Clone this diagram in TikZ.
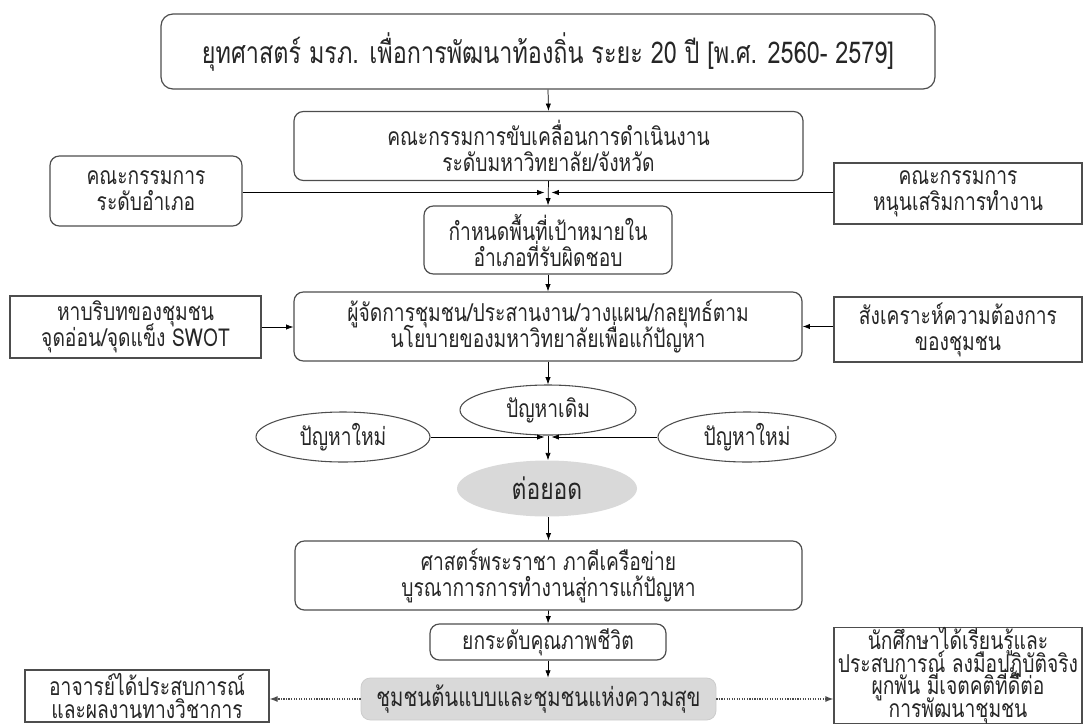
\documentclass[tikz,border=0pt]{standalone}
\usepackage{fontspec}
\newfontfamily\thai[Script=Thai,FakeStretch=0.78]{Loma}
\usetikzlibrary{arrows.meta,shapes.geometric}
\definecolor{linec}{HTML}{4D4D4D}
\definecolor{txt}{HTML}{262626}
\definecolor{fillg}{HTML}{D9D9D9}
\newcommand\tightlines{\lineskiplimit=-30pt\relax\lineskip=0pt\relax}
\begin{document}
\begin{tikzpicture}[x=0.75pt,y=-0.75pt,
  sz/.style 2 args={minimum width=#1*0.75pt,minimum height=#2*0.75pt,inner sep=0pt},
  basetext/.style={text=txt,align=center,font=\thai\fontsize{18.5}{19.5}\selectfont\tightlines},
  rbox/.style={basetext,draw=linec,line width=0.9pt,rounded corners=7pt,rectangle},
  sbox/.style={basetext,draw=linec,line width=0.9pt,rectangle},
  oval/.style={basetext,draw=linec,line width=0.8pt,ellipse},
  arr/.style={draw=black,line width=0.55pt,-{Latex[length=5.5pt,width=4pt]}},
  darr/.style={draw=black!70,line width=0.9pt,densely dotted,-{Latex[length=6pt,width=4.5pt]}}
]
\useasboundingbox (0,0) rectangle (1085,725);

\node[rbox,sz={774}{75},rounded corners=9pt,font=\thai\fontsize{22.5}{24}\selectfont] (title) at (548,51.5)
  {ยุทศาสตร์ มรภ. เพื่อการพัฒนาท้องถิ่น ระยะ 20 ปี [พ.ศ. 2560- 2579]};

\node[rbox,sz={509}{69}] (b2) at (548.5,146)
  {คณะกรรมการขับเคลื่อนการดำเนินงาน\\ระดับมหาวิทยาลัย/จังหวัด};
\node[rbox,sz={192}{70}] (lb) at (146,191) {คณะกรรมการ\\ระดับอำเภอ};
\node[sbox,sz={248}{61}] (rb) at (958,193.5) {คณะกรรมการ\\หนุนเสริมการทำงาน};
\node[rbox,sz={248}{68}] (b3) at (548,240) {กำหนดพื้นที่เป้าหมายใน\\อำเภอที่รับผิดชอบ};

\node[rbox,sz={508}{69}] (b4) at (548,326.5)
  {ผู้จัดการชุมชน/ประสานงาน/วางแผน/กลยุทธ์ตาม\\นโยบายของมหาวิทยาลัยเพื่อแก้ปัญหา};
\node[sbox,sz={251}{62}] (swot) at (135.5,327) {หาบริบทของชุมชน\\จุดอ่อน/จุดแข็ง SWOT};
\node[sbox,sz={248}{65}] (syn) at (958,329.5) {สังเคราะห์ความต้องการ\\ของชุมชน};

\node[oval,sz={176}{50}] (old) at (548,410) {ปัญหาเดิม};
\node[oval,sz={174}{50}] (newL) at (343,437) {ปัญหาใหม่};
\node[oval,sz={178}{50}] (newR) at (747,437) {ปัญหาใหม่};
\node[basetext,ellipse,fill=fillg,sz={180}{56},font=\thai\fontsize{22}{24}\selectfont] (toyod) at (547,488.5) {ต่อยอด};

\node[rbox,sz={507}{69}] (b5) at (548.5,575.5)
  {ศาสตร์พระราชา ภาคีเครือข่าย\\บูรณาการการทำงานสู่การแก้ปัญหา};
\node[rbox,sz={236}{36}] (b6) at (548,642) {ยกระดับคุณภาพชีวิต};
\node[basetext,rectangle,rounded corners=7pt,fill=fillg,draw=black!20,line width=0.6pt,sz={355}{42},font=\thai\fontsize{19.5}{20}\selectfont] (gray) at (538.5,699)
  {ชุมชนต้นแบบและชุมชนแห่งความสุข};
\node[sbox,sz={244}{52},font=\thai\fontsize{18.5}{17.5}\selectfont\tightlines] (lbot) at (147,696) {อาจารย์ได้ประสบการณ์\\และผลงานทางวิชาการ};
\node[sbox,sz={248}{94},font=\thai\fontsize{18.5}{17}\selectfont\tightlines] (rbot) at (958,675.5)
  {นักศึกษาได้เรียนรู้และ\\ประสบการณ์ ลงมือปฏิบัติจริง\\ผูกพัน มีเจตคติที่ดีต่อ\\การพัฒนาชุมชน};

\coordinate (jL) at (544.5,192.5);
\coordinate (jR) at (551.5,192.5);
\coordinate (kL) at (544.5,437);
\coordinate (kR) at (551.5,437);

\draw[arr] (title.south) -- (b2.north);
\draw[arr] (b2.south) -- (b3.north);
\draw[arr] (lb.east |- jL) -- (jL);
\draw[arr] (rb.west |- jR) -- (jR);
\draw[arr] (b3.south) -- (b4.north);
\draw[arr] (swot.east) -- (swot.east -| b4.west);
\draw[arr] (syn.west |- b4.east) -- (b4.east);
\draw[arr] (b4.south) -- (old.north);
\draw[arr] (newL.east) -- (kL);
\draw[arr] (newR.west) -- (kR);
\draw[arr] (old.south) -- (old.south |- toyod.north);
\draw[arr] (toyod.south -| b5.north) -- (b5.north);
\draw[arr] (b5.south) -- (b6.north);
\draw[arr] (b6.south) -- (b6.south |- gray.north);
\draw[darr] (gray.west) -- (gray.west -| lbot.east);
\draw[darr] (gray.east) -- (gray.east -| rbot.west);
\end{tikzpicture}
\end{document}
